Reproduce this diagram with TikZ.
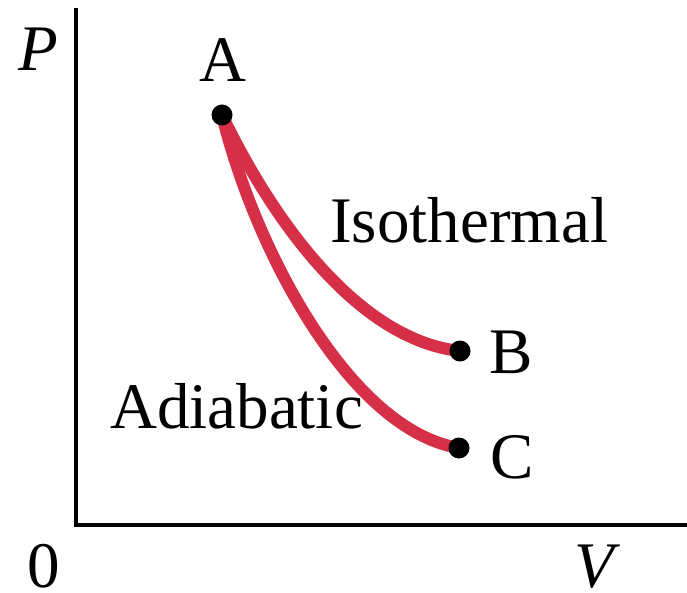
\documentclass[tikz,border=0pt]{standalone}
\usepackage{fontspec}
\setmainfont{Liberation Serif}
\usetikzlibrary{backgrounds}
\definecolor{curvered}{RGB}{214,48,72}
\begin{document}
\begin{tikzpicture}[x=1pt,y=-1pt,
  lbl/.style={inner sep=0pt,font=\fontsize{65}{78}\selectfont},
  dot/.style={circle,fill=black,inner sep=0pt,minimum size=21pt},
  axisline/.style={line width=4pt,draw=black},
  proc/.style={line width=12pt,draw=curvered}]
\useasboundingbox (0,0) rectangle (687,593);
% axes
\coordinate (O) at (76,525);
\coordinate (Ptop) at (76,8);
\coordinate (Vend) at (687,525);
\draw[axisline] (Ptop) -- (O) -- (Vend);
% points
\node[dot] (A) at (222,115) {};
\node[dot] (B) at (460,351) {};
\node[dot] (C) at (459,448) {};
% curves
\begin{pgfonlayer}{background}
\draw[proc] (A.center) .. controls (275,225) and (360,340) .. (B.center);
\draw[proc] (A.center) .. controls (255,250) and (350,430) .. (C.center);
\end{pgfonlayer}
% labels
\node[lbl,anchor=base] (Plbl) at (38,71) {\textit{P}};
\node[lbl,anchor=base] (Albl) at (223,82) {A};
\node[lbl,anchor=base] (Blbl) at (511,373) {B};
\node[lbl,anchor=base] (Clbl) at (512,478) {C};
\node[lbl,anchor=base] (Vlbl) at (597,587) {\textit{V}};
\node[lbl,anchor=base] (Zlbl) at (44,587) {0};
\node[lbl,anchor=base west] (Iso) at (330,243) {Isothermal};
\node[lbl,anchor=base west] (Adi) at (110,428) {Adiabatic};
\end{tikzpicture}
\end{document}
